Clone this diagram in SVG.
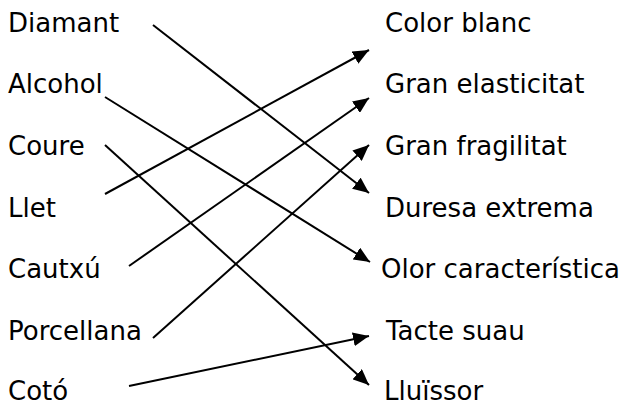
<svg xmlns="http://www.w3.org/2000/svg" width="625" height="403" viewBox="0 0 625 403">
<style>
text{font-family:"DejaVu Sans","Verdana",sans-serif;font-size:26px;fill:#000}
.c{stroke:#000;stroke-width:2;fill:none;marker-end:url(#ah)}
</style>
<defs>
<marker id="ah" markerUnits="userSpaceOnUse" markerWidth="17" markerHeight="14" refX="16" refY="7" orient="auto">
<path d="M0,0 L16,7 L0,14 z" fill="#000"/>
</marker>
</defs>
<rect width="625" height="403" fill="#fff"/>
<g id="left">
<g id="diamant"><text x="8" y="32">Diamant</text></g>
<g id="alcohol"><text x="8" y="93">Alcohol</text></g>
<g id="coure"><text x="8" y="155">Coure</text></g>
<g id="llet"><text x="8" y="217">Llet</text></g>
<g id="cautxu"><text x="8" y="278">Cautxú</text></g>
<g id="porcellana"><text x="8" y="340">Porcellana</text></g>
<g id="coto"><text x="8" y="400">Cotó</text></g>
</g>
<g id="right">
<g id="color-blanc"><text x="385" y="32">Color blanc</text></g>
<g id="gran-elasticitat"><text x="385" y="93">Gran elasticitat</text></g>
<g id="gran-fragilitat"><text x="385" y="155">Gran fragilitat</text></g>
<g id="duresa-extrema"><text x="385" y="217">Duresa extrema</text></g>
<g id="olor"><text x="381" y="278">Olor característica</text></g>
<g id="tacte-suau"><text x="386" y="340">Tacte suau</text></g>
<g id="lluissor"><text x="384" y="400">Lluïssor</text></g>
</g>
<g id="connectors">
<line class="c" x1="153" y1="25" x2="369" y2="193"/>
<line class="c" x1="105" y1="97" x2="370" y2="262"/>
<line class="c" x1="105" y1="145" x2="369" y2="385"/>
<line class="c" x1="105" y1="194" x2="369" y2="50"/>
<line class="c" x1="129" y1="266" x2="369" y2="98"/>
<line class="c" x1="153" y1="338" x2="369" y2="145"/>
<line class="c" x1="129" y1="386" x2="369" y2="336"/>
</g>
</svg>
